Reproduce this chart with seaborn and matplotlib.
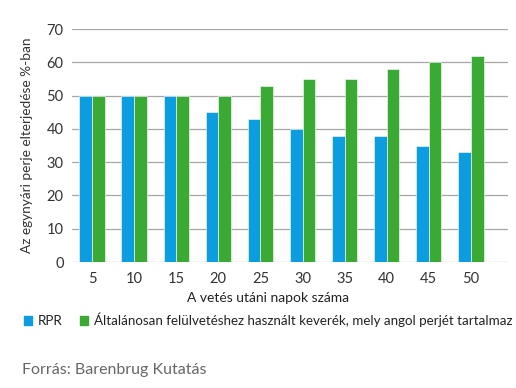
import pandas as pd
import matplotlib
matplotlib.use('Agg')
import matplotlib.pyplot as plt
import matplotlib.patches as mpatches
import seaborn as sns

days = [5, 10, 15, 20, 25, 30, 35, 40, 45, 50]
rpr = [50, 50, 50, 45, 43, 40, 38, 38, 35, 33]
mix = [50, 50, 50, 50, 53, 55, 55, 58, 60, 62]
# the reference cuts the second legend entry at the right edge after "tartalmaz"
series_names = ['RPR', 'Általánosan felülvetéshez használt keverék, mely angol perjét tartalmaz']
colors = ['#0b9de0', '#3aaa35']

df = pd.DataFrame({
    'nap': days * 2,
    'ertek': rpr + mix,
    'sorozat': [series_names[0]] * len(days) + [series_names[1]] * len(days),
})

sns.set_style('white')
plt.rcParams['font.family'] = ['Lato', 'DejaVu Sans']

fig = plt.figure(figsize=(5.16, 3.88), dpi=100)
ax = fig.add_axes([72 / 516, 1 - 262 / 388, 436 / 516, 233 / 388])

sns.barplot(data=df, x='nap', y='ertek', hue='sorozat', palette=colors, saturation=1,
            width=0.6, edgecolor='white', linewidth=0.4, ax=ax, legend=False, zorder=3)

ax.set_ylim(0, 70)
ax.set_yticks(range(0, 71, 10))
ax.yaxis.grid(True, color='#a6a6a6', linewidth=0.9, zorder=0)
ax.set_axisbelow(True)
for s in ['top', 'right', 'left', 'bottom']:
    ax.spines[s].set_visible(False)
ax.tick_params(axis='both', length=0, labelsize=10.5, colors='#333333')
ax.tick_params(axis='x', pad=7)
ax.tick_params(axis='y', pad=6)
ax.set_xlim(-0.475, 9.88)

ax.set_xlabel('A vetés utáni napok száma', fontsize=10, color='#222222', labelpad=8)
ax.xaxis.set_label_coords(0.45, -0.13)
ax.set_ylabel('Az egynyári perje elterjedése %-ban', fontsize=9.8, color='#333333', labelpad=10)

handles = [mpatches.Patch(color=c, label=n) for c, n in zip(colors, series_names)]
fig.legend(handles=handles, loc='upper left', bbox_to_anchor=(0.046, 0.195), ncol=2,
           frameon=False, fontsize=9.6, handlelength=0.65, handleheight=0.65,
           handletextpad=0.4, columnspacing=1.3, borderaxespad=0, borderpad=0,
           labelcolor='#222222')

fig.text(0.043, 0.035, 'Forrás: Barenbrug Kutatás', fontsize=11.5, color='#666666')

fig.savefig('out.png', dpi=100)
